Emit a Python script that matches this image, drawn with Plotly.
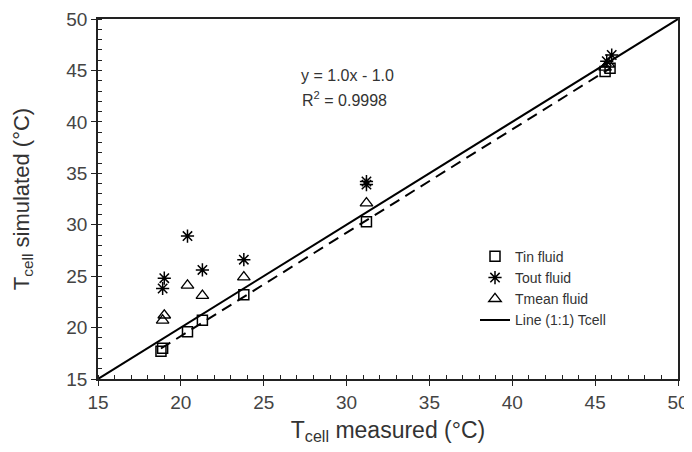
import numpy as np
import plotly.graph_objects as go

# Data
tin_x = [18.8, 18.9, 20.4, 21.3, 23.8, 31.2, 45.6, 45.9]
tin_y = [17.7, 18.0, 19.6, 20.7, 23.2, 30.3, 44.9, 45.2]

tout_x = [18.9, 19.0, 20.4, 21.3, 23.8, 31.2, 31.2, 45.7, 46.0]
tout_y = [23.8, 24.8, 28.9, 25.6, 26.6, 33.9, 34.2, 45.9, 46.5]

tmean_x = [18.9, 19.0, 20.4, 21.3, 23.8, 31.2, 45.6, 45.8]
tmean_y = [20.7, 21.2, 24.1, 23.1, 24.9, 32.1, 45.3, 45.6]

line_x = [15, 50]
line_y = [15, 50]

eq_text = "y = 1.0x - 1.0"
r2_text = "R<sup>2</sup> = 0.9998"

# regression on Tin fluid data (dashed)
slope, intercept = np.polyfit(tin_x, tin_y, 1)
fit_x = [min(tin_x), max(tin_x)]
fit_y = [slope * v + intercept for v in fit_x]

font_family = "Liberation Sans, Arial, sans-serif"

fig = go.Figure()
fig.add_trace(go.Scatter(x=tin_x, y=tin_y, mode="markers", name="Tin fluid",
                         marker=dict(symbol="square-open", size=10, color="black",
                                     line=dict(width=1.5, color="black"))))
fig.add_trace(go.Scatter(x=tout_x, y=tout_y, mode="markers", name="Tout fluid",
                         marker=dict(symbol="asterisk-open", size=11, color="black",
                                     line=dict(width=1.5, color="black"))))
fig.add_trace(go.Scatter(x=tmean_x, y=tmean_y, mode="markers", name="Tmean fluid",
                         marker=dict(symbol="triangle-up-open", size=11, color="black",
                                     line=dict(width=1.3, color="black"))))
fig.add_trace(go.Scatter(x=line_x, y=line_y, mode="lines", name="Line (1:1) Tcell",
                         line=dict(color="black", width=2)))
fig.add_trace(go.Scatter(x=fit_x, y=fit_y, mode="lines", showlegend=False,
                         line=dict(color="black", width=2, dash="11px,7px")))

fig.add_annotation(x=0.431, y=0.872, xref="paper", yref="paper", text=eq_text,
                   showarrow=False, font=dict(size=16, color="#333", family=font_family))
fig.add_annotation(x=0.425, y=0.812, xref="paper", yref="paper", text=r2_text,
                   showarrow=False, font=dict(size=16, color="#333", family=font_family))

axis_common = dict(
    range=[15, 50], dtick=5, tick0=15, automargin=False,
    showline=True, linecolor="#222", linewidth=1.5, mirror=True,
    ticks="outside", ticklen=5, tickwidth=1.2, tickcolor="#222",
    minor=dict(dtick=1, ticks="inside", ticklen=4, tickwidth=1, tickcolor="#222"),
    showgrid=False, zeroline=False,
    tickfont=dict(size=19, color="#444", family=font_family),
)

# page body has an 8px default margin; margins compensate so the plot area
# lands at x 98..678, y 19..379 in the 692x452 window
fig.update_layout(
    width=684, height=444,
    margin=dict(l=90, r=14, t=11, b=73),
    paper_bgcolor="white", plot_bgcolor="white",
    font=dict(family=font_family, color="#333"),
    showlegend=True,
    legend=dict(x=0.65, y=0.384, xanchor="left", yanchor="top",
                bgcolor="rgba(0,0,0,0)", font=dict(size=14, color="#333", family=font_family),
                tracegroupgap=0),
    xaxis=dict(**axis_common,
               title=dict(text="T<sub>cell</sub> measured (°C)", standoff=10,
                          font=dict(size=23, color="#333", family=font_family))),
    yaxis=dict(**axis_common,
               title=dict(text="T<sub>cell</sub> simulated (°C)", standoff=31,
                          font=dict(size=22, color="#333", family=font_family))),
)

fig.write_html("out.html")
